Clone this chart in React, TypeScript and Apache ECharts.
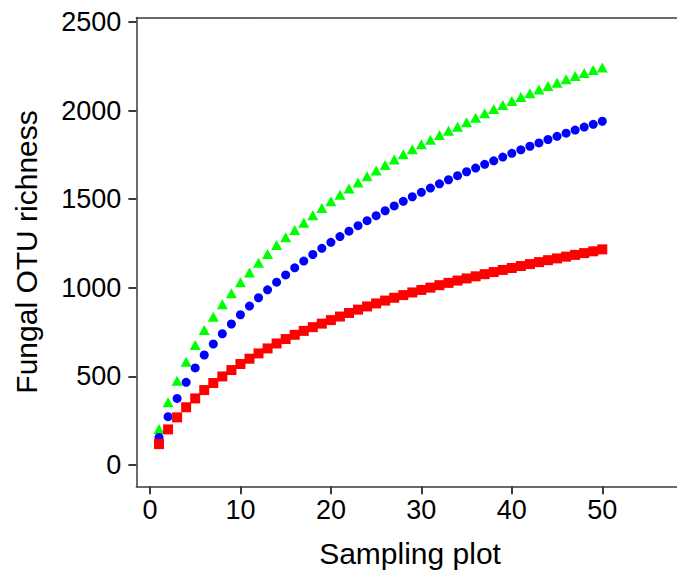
import React, { useEffect, useRef } from "react";
import * as echarts from "echarts";

const plots: number[] = Array.from({ length: 50 }, (_, i) => i + 1);

const greenSeries: number[] = [
  203, 354, 476, 583, 677, 762, 837, 907, 969, 1031,
  1087, 1142, 1191, 1242, 1285, 1326, 1367, 1409, 1450, 1489,
  1525, 1561, 1595, 1629, 1662, 1693, 1724, 1754, 1782, 1810,
  1836, 1862, 1886, 1909, 1934, 1960, 1985, 2009, 2032, 2055,
  2077, 2098, 2119, 2139, 2158, 2177, 2195, 2213, 2229, 2243,
];

const blueSeries: number[] = [
  156, 273, 376, 467, 548, 621, 683, 741, 796, 848,
  897, 944, 989, 1032, 1073, 1113, 1151, 1188, 1223, 1257,
  1289, 1320, 1351, 1379, 1407, 1435, 1462, 1488, 1514, 1539,
  1563, 1587, 1610, 1633, 1655, 1676, 1697, 1717, 1738, 1759,
  1779, 1799, 1818, 1837, 1855, 1873, 1890, 1907, 1923, 1940,
];

const redSeries: number[] = [
  118, 201, 269, 326, 376, 423, 463, 500, 536, 570,
  600, 630, 658, 686, 711, 735, 757, 778, 798, 818,
  838, 858, 877, 895, 912, 928, 944, 959, 974, 988,
  1001, 1015, 1028, 1041, 1053, 1065, 1077, 1089, 1101, 1112,
  1123, 1134, 1145, 1156, 1166, 1176, 1186, 1196, 1206, 1217,
];

const xTicks: number[] = [0, 10, 20, 30, 40, 50];
const yTicks: number[] = [0, 500, 1000, 1500, 2000, 2500];

const FONT = "'Liberation Sans', Arial, Helvetica, sans-serif";
const AXIS_COLOR = "#3a3a3a";
const X_MIN = -1.5;
const X_MAX = 59;

export default function App() {
  const ref = useRef<HTMLDivElement>(null);

  useEffect(() => {
    if (!ref.current) return;
    const chart = echarts.init(ref.current, null, { renderer: "svg" });
    const pair = (ys: number[]) => plots.map((x, i) => [x, ys[i]]);
    chart.setOption({
      animation: false,
      backgroundColor: "#ffffff",
      grid: {
        left: 136.4,
        top: 17.6,
        width: 547.3,
        height: 468.7,
        containLabel: false,
        outerBoundsMode: "none",
        show: false,
      },
      xAxis: [
        {
          type: "value",
          position: "bottom",
          min: X_MIN,
          max: X_MAX,
          name: "Sampling plot",
          nameLocation: "middle",
          nameGap: 52,
          nameTextStyle: { fontFamily: FONT, fontSize: 30, color: "#000" },
          axisLine: { show: true, onZero: false, lineStyle: { color: AXIS_COLOR, width: 1.5 } },
          axisTick: {
            show: true,
            length: 8,
            customValues: xTicks,
            lineStyle: { color: AXIS_COLOR, width: 2 },
          },
          axisLabel: {
            customValues: xTicks,
            margin: 10,
            fontFamily: FONT,
            fontSize: 27,
            color: "#000",
            formatter: (v: number) => String(v),
          },
          splitLine: { show: false },
        },
        {
          type: "value",
          position: "top",
          min: X_MIN,
          max: X_MAX,
          axisLine: { show: true, onZero: false, lineStyle: { color: AXIS_COLOR, width: 1.5 } },
          axisTick: { show: false },
          axisLabel: { show: false },
          splitLine: { show: false },
        },
      ],
      yAxis: {
        type: "value",
        min: -120,
        max: 2525,
        name: "Fungal OTU richness",
        nameLocation: "middle",
        nameGap: 95,
        nameTextStyle: { fontFamily: FONT, fontSize: 30, color: "#000" },
        axisLine: { show: true, onZero: false, lineStyle: { color: AXIS_COLOR, width: 1.5 } },
        axisTick: {
          show: true,
          length: 8,
          customValues: yTicks,
          lineStyle: { color: AXIS_COLOR, width: 2 },
        },
        axisLabel: {
          customValues: yTicks,
          margin: 15,
          fontFamily: FONT,
          fontSize: 27,
          color: "#000",
          formatter: (v: number) => String(v),
        },
        splitLine: { show: false },
      },
      series: [
        {
          type: "scatter",
          name: "green",
          data: pair(greenSeries),
          symbol: "triangle",
          symbolSize: [11, 10],
          itemStyle: { color: "#00ff00", opacity: 1 },
        },
        {
          type: "scatter",
          name: "blue",
          data: pair(blueSeries),
          symbol: "circle",
          symbolSize: 9,
          itemStyle: { color: "#0000ff", opacity: 1 },
        },
        {
          type: "scatter",
          name: "red",
          data: pair(redSeries),
          symbol: "rect",
          symbolSize: 10,
          itemStyle: { color: "#ff0000", opacity: 1 },
        },
      ],
    });
    return () => chart.dispose();
  }, []);

  return (
    <div
      style={{
        position: "fixed",
        left: 0,
        top: 0,
        width: 677,
        height: 576,
        overflow: "hidden",
        background: "#ffffff",
      }}
    >
      <div ref={ref} style={{ width: 720, height: 576 }} />
    </div>
  );
}
